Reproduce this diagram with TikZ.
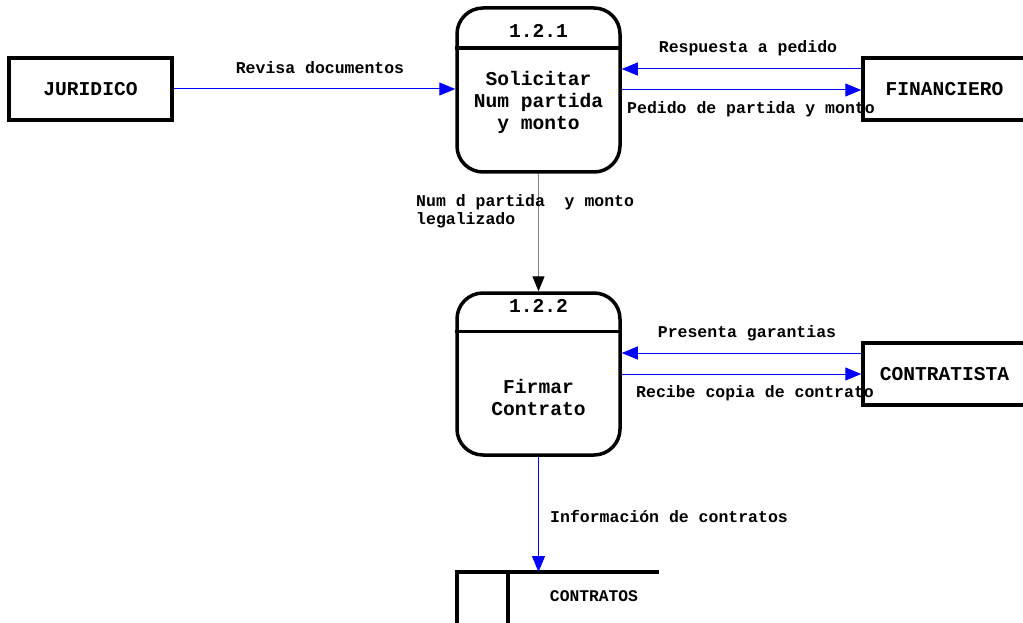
\documentclass[tikz,border=0pt]{standalone}
\usepackage{fontspec}
\setmainfont{Liberation Mono}
\usetikzlibrary{arrows.meta}
\tikzset{
  entidad/.style={draw, line width=3.5pt, minimum width=163pt, minimum height=62pt, inner sep=0pt, font=\fontsize{19.6}{22}\selectfont\bfseries},
  proceso/.style={draw, line width=3.5pt, rounded corners=26pt, minimum width=163pt, minimum height=164pt, inner sep=0pt},
  titulo/.style={inner sep=0pt, align=center, font=\fontsize{19.6}{22}\selectfont\bfseries},
  flujo/.style={blue, line width=1pt, -{Triangle[length=16pt,width=13pt]}},
  flujon/.style={gray, line width=1.4pt, -{Triangle[length=15pt,width=12pt,color=black]}},
  etiqueta/.style={inner sep=0pt, align=left, font=\fontsize{16.5}{18}\selectfont\bfseries}
}
\begin{document}
\begin{tikzpicture}[x=1pt,y=-1pt]
  \useasboundingbox (0,0) rectangle (1023,623);
  % entidades externas
  \node[entidad] (jur) at (90.5,89) {JURIDICO};
  \node[entidad] (fin) at (944.5,89) {FINANCIERO};
  \node[entidad] (con) at (944.5,374) {CONTRATISTA};
  % procesos
  \node[proceso] (p1) at (538.5,90) {};
  \node[proceso, minimum height=162pt] (p2) at (538.5,374) {};
  \draw[line width=3.5pt] ([yshift=-42pt]p1.north west) -- ([yshift=-42pt]p1.north east);
  \draw[line width=3.5pt] ([yshift=-40pt]p2.north west) -- ([yshift=-40pt]p2.north east);
  \node[titulo] (p1n) at (538.5,31) {1.2.1};
  \node[titulo] (p1t) at (538.5,102) {Solicitar\\Num partida\\y monto};
  \node[titulo] (p2n) at (538.5,306) {1.2.2};
  \node[titulo] (p2t) at (538.5,397.5) {Firmar\\Contrato};
  % almacen
  \draw[line width=3.5pt] (457,623) -- (457,572) -- (659,572);
  \draw[line width=3.5pt] (508,572) -- (508,623);
  \coordinate (alm) at (538.5,572);
  \node[etiqueta, font=\fontsize{16.3}{18}\selectfont\bfseries] (almt) at (594,596) {CONTRATOS};
  % flujos
  \draw[flujo] (jur.east) -- (jur.east -| p1.west);
  \draw[flujo] ([yshift=20pt]fin.west) -- ([yshift=20pt]fin.west -| p1.east);
  \draw[flujo] (p1.east) -- (p1.east -| fin.west);
  \draw[flujo] ([yshift=21pt]con.west) -- ([yshift=21pt]con.west -| p2.east);
  \draw[flujo] (p2.east) -- (p2.east -| con.west);
  \draw[flujon] (p1.south) -- (p2.north);
  \draw[flujo] (p2.south) -- (alm);
  % etiquetas
  \node[etiqueta] (l1) at (320,68) {Revisa documentos};
  \node[etiqueta] (l2) at (748,48) {Respuesta a pedido};
  \node[etiqueta, anchor=west] (l3) at (627,109) {Pedido de partida y monto};
  \node[etiqueta, anchor=west] (l4) at (416,211) {Num d partida~~y monto\\legalizado};
  \node[etiqueta] (l5) at (747,333) {Presenta garantias};
  \node[etiqueta, anchor=west] (l6) at (636,393) {Recibe copia de contrato};
  \node[etiqueta, anchor=west] (l7) at (550,516) {Información de contratos};
\end{tikzpicture}
\end{document}
